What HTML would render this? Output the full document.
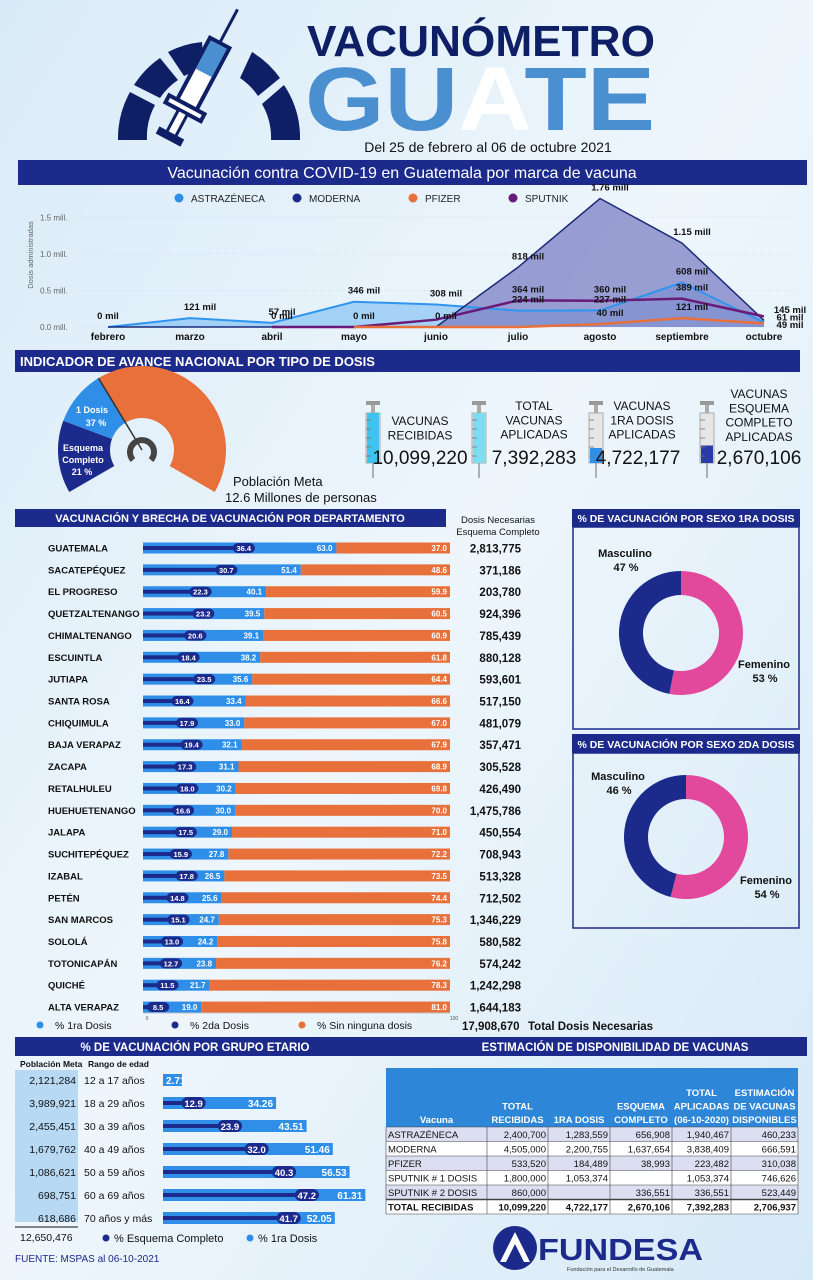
<!DOCTYPE html>
<html><head><meta charset="utf-8">
<style>
html,body{margin:0;padding:0;width:813px;height:1280px;overflow:hidden;background:#e6f1fa;}
svg{display:block;font-family:"Liberation Sans",sans-serif;}
</style></head>
<body>
<svg id="root" width="813" height="1280" viewBox="0 0 813 1280" xmlns="http://www.w3.org/2000/svg">
<defs>
<linearGradient id="bg" x1="0" y1="0" x2="1" y2="1">
<stop offset="0" stop-color="#d9ebf8"/><stop offset="0.5" stop-color="#eef6fc"/><stop offset="1" stop-color="#d6e9f7"/>
</linearGradient>
</defs>
<rect x="0" y="0" width="813" height="1280" fill="url(#bg)"/>

<g>
<path d="M118,140 A95,95 0 0,1 130,92 L155,105 A66,66 0 0,0 147,140 Z" fill="#0f1f66"/>
<path d="M134,85 A95,95 0 0,1 160,58 L178,80 A66,66 0 0,0 160,98 Z" fill="#0f1f66"/>
<path d="M168,52 A95,95 0 0,1 202,42 L204,70 A66,66 0 0,0 184,76 Z" fill="#0f1f66"/>
<path d="M252,52 A95,95 0 0,1 280,78 L258,96 A66,66 0 0,0 240,78 Z" fill="#0f1f66"/>
<path d="M284,85 A95,95 0 0,1 300,140 L271,140 A66,66 0 0,0 262,104 Z" fill="#0f1f66"/>
<g transform="translate(200,80) rotate(28)">
<line x1="0" y1="-80" x2="0" y2="-40" stroke="#0f1f66" stroke-width="3"/>
<rect x="-11" y="-42" width="22" height="70" fill="#fff" stroke="#0f1f66" stroke-width="4"/>
<rect x="-9" y="-40" width="18" height="32" fill="#4a90d0"/>
<rect x="-20" y="28" width="40" height="8" fill="#fff" stroke="#0f1f66" stroke-width="4"/>
<rect x="-5" y="36" width="10" height="26" fill="#fff" stroke="#0f1f66" stroke-width="3"/>
<rect x="-14" y="60" width="28" height="8" fill="#0f1f66"/>
</g>
</g>
<text x="307" y="56" font-size="44" font-weight="bold" fill="#0f1f66" textLength="348" lengthAdjust="spacingAndGlyphs">VACUNÓMETRO</text>
<text x="305" y="130" font-size="90" font-weight="bold" textLength="350" lengthAdjust="spacingAndGlyphs"><tspan fill="#4a8fd0">GU</tspan><tspan fill="#ffffff">A</tspan><tspan fill="#4a8fd0">TE</tspan></text>
<text x="488" y="152" font-size="14" fill="#111" text-anchor="middle">Del 25 de febrero al 06 de octubre 2021</text>

<rect x="18" y="160" width="789" height="25" fill="#1c2a8c"/>
<text x="402" y="178" font-size="16" fill="#fff" text-anchor="middle">Vacunación contra COVID-19 en Guatemala por marca de vacuna</text>
<g id="brandChart"></g>

<rect x="15" y="350" width="785" height="22" fill="#1c2a8c"/>
<text x="20" y="366" font-size="13" font-weight="bold" fill="#fff">INDICADOR DE AVANCE NACIONAL POR TIPO DE DOSIS</text>
<g id="gauge"></g>
<text x="233" y="486" font-size="13" fill="#111">Población Meta</text>
<text x="225" y="502" font-size="13" fill="#111">12.6 Millones de personas</text>
<g id="kpis"></g>

<rect x="15" y="509" width="431" height="18" fill="#1c2a8c"/>
<text x="230" y="522" font-size="11" font-weight="bold" fill="#fff" text-anchor="middle">VACUNACIÓN Y BRECHA DE VACUNACIÓN POR DEPARTAMENTO</text>
<text x="498" y="523" font-size="9.5" fill="#111" text-anchor="middle">Dosis Necesarias</text>
<text x="498" y="535" font-size="9.5" fill="#111" text-anchor="middle">Esquema Completo</text>
<g id="deptChart"></g>

<rect x="572" y="509" width="228" height="18" fill="#1c2a8c"/>
<text x="686" y="522" font-size="10.5" font-weight="bold" fill="#fff" text-anchor="middle">% DE VACUNACIÓN POR SEXO 1RA DOSIS</text>
<rect x="573" y="527" width="226" height="202" fill="none" stroke="#1c2a8c" stroke-width="1.5"/>
<rect x="572" y="734" width="228" height="19" fill="#1c2a8c"/>
<text x="686" y="748" font-size="10.5" font-weight="bold" fill="#fff" text-anchor="middle">% DE VACUNACIÓN POR SEXO 2DA DOSIS</text>
<rect x="573" y="753" width="226" height="175" fill="none" stroke="#1c2a8c" stroke-width="1.5"/>
<g id="donuts"></g>

<rect x="15" y="1037" width="792" height="19" fill="#1c2a8c"/>
<text x="195" y="1051" font-size="11.5" font-weight="bold" fill="#fff" text-anchor="middle">% DE VACUNACIÓN POR GRUPO ETARIO</text>
<text x="615" y="1051" font-size="11.5" font-weight="bold" fill="#fff" text-anchor="middle">ESTIMACIÓN DE DISPONIBILIDAD DE VACUNAS</text>
<rect x="15" y="1070" width="63" height="152" fill="#b7d9f4"/>
<text x="20" y="1067" font-size="8.5" font-weight="bold" fill="#111">Población Meta</text>
<text x="88" y="1067" font-size="8.5" font-weight="bold" fill="#111">Rango de edad</text>
<g id="ageChart"></g>
<line x1="15" y1="1227" x2="78" y2="1227" stroke="#111" stroke-width="1"/>
<text x="20" y="1241" font-size="10.5" fill="#111">12,650,476</text>
<circle cx="106" cy="1238" r="3.5" fill="#1c2a8c"/>
<text x="114" y="1242" font-size="11" fill="#111">% Esquema Completo</text>
<circle cx="250" cy="1238" r="3.5" fill="#2f8fe8"/>
<text x="258" y="1242" font-size="11" fill="#111">% 1ra Dosis</text>
<text x="15" y="1262" font-size="10" fill="#1c2a8c">FUENTE: MSPAS al 06-10-2021</text>
<g id="table"></g>

<g>
<circle cx="515" cy="1248" r="22" fill="#1c2a8c"/>
<path d="M500,1262 L515,1232 L530,1262 Z" fill="#fff"/>
<path d="M506,1262 L515,1244 L524,1262 Z" fill="#1c2a8c"/>
<text x="538" y="1260" font-size="31" font-weight="bold" fill="#1c2a8c" textLength="165" lengthAdjust="spacingAndGlyphs">FUNDESA</text>
<text x="567" y="1271" font-size="5.5" fill="#333">Fundación para el Desarrollo de Guatemala</text>
</g>
</svg>

<script>
const NS='http://www.w3.org/2000/svg';
function mk(tag,attrs,parent,txt){const e=document.createElementNS(NS,tag);for(const k in attrs)e.setAttribute(k,attrs[k]);if(txt!==undefined)e.textContent=txt;parent.appendChild(e);return e;}

const months=['febrero','marzo','abril','mayo','junio','julio','agosto','septiembre','octubre'];
const astra=[0,0.121,0.057,0.346,0.308,0.224,0.227,0.608,0.061];
const moderna=[0,0,0,0,0,0.818,1.76,1.15,0.09];
const pfizer=[null,null,null,0,0,0,0.04,0.121,0.049];
const sputnik=[null,null,0,0,0.10,0.364,0.36,0.389,0.145];
const yTicks=[0,0.5,1.0,1.5];
const yTickLabels=['0.0 mill.','0.5 mill.','1.0 mill.','1.5 mill.'];
const brandNames=['ASTRAZÉNECA','MODERNA','PFIZER','SPUTNIK'];

const gaugeEsquema=21;
const gaugeUnaDosis=37;
const kpiLabels=[['VACUNAS','RECIBIDAS'],['TOTAL','VACUNAS','APLICADAS'],['VACUNAS','1RA DOSIS','APLICADAS'],['VACUNAS','ESQUEMA','COMPLETO','APLICADAS']];
const kpiValues=['10,099,220','7,392,283','4,722,177','2,670,106'];
const kpiFill=[1,1,0.3,0.35];

const depts=['GUATEMALA','SACATEPÉQUEZ','EL PROGRESO','QUETZALTENANGO','CHIMALTENANGO','ESCUINTLA','JUTIAPA','SANTA ROSA','CHIQUIMULA','BAJA VERAPAZ','ZACAPA','RETALHULEU','HUEHUETENANGO','JALAPA','SUCHITEPÉQUEZ','IZABAL','PETÉN','SAN MARCOS','SOLOLÁ','TOTONICAPÁN','QUICHÉ','ALTA VERAPAZ'];
const deptDosis2=[36.4,30.7,22.3,23.2,20.6,18.4,23.5,16.4,17.9,19.4,17.3,18.0,16.6,17.5,15.9,17.8,14.8,15.1,13.0,12.7,11.5,8.5];
const deptDosis1=[63.0,51.4,40.1,39.5,39.1,38.2,35.6,33.4,33.0,32.1,31.1,30.2,30.0,29.0,27.8,26.5,25.6,24.7,24.2,23.8,21.7,19.0];
const deptSin=[37.0,48.6,59.9,60.5,60.9,61.8,64.4,66.6,67.0,67.9,68.9,69.8,70.0,71.0,72.2,73.5,74.4,75.3,75.8,76.2,78.3,81.0];
const deptNecesarias=['2,813,775','371,186','203,780','924,396','785,439','880,128','593,601','517,150','481,079','357,471','305,528','426,490','1,475,786','450,554','708,943','513,328','712,502','1,346,229','580,582','574,242','1,242,298','1,644,183'];

const sexFem=[53,54];
const sexMasc=[47,46];

const ageRanges=['12 a 17 años','18 a 29 años','30 a 39 años','40 a 49 años','50 a 59 años','60 a 69 años','70 años y más'];
const agePob=['2,121,284','3,989,921','2,455,451','1,679,762','1,086,621','698,751','618,686'];
const ageEsquema=[null,12.9,23.9,32.0,40.3,47.2,41.7];
const age1ra=[2.71,34.26,43.51,51.46,56.53,61.31,52.05];

const tblHeaders=[['Vacuna'],['TOTAL','RECIBIDAS'],['1RA DOSIS'],['ESQUEMA','COMPLETO'],['TOTAL','APLICADAS','(06-10-2020)'],['ESTIMACIÓN','DE VACUNAS','DISPONIBLES']];
const tblRows=[
['ASTRAZÉNECA','2,400,700','1,283,559','656,908','1,940,467','460,233'],
['MODERNA','4,505,000','2,200,755','1,637,654','3,838,409','666,591'],
['PFIZER','533,520','184,489','38,993','223,482','310,038'],
['SPUTNIK # 1 DOSIS','1,800,000','1,053,374','','1,053,374','746,626'],
['SPUTNIK # 2 DOSIS','860,000','','336,551','336,551','523,449'],
['TOTAL RECIBIDAS','10,099,220','4,722,177','2,670,106','7,392,283','2,706,937']];

const NAVY='#1c2a8c',LB='#2f8fe8',OR='#e8703a',PINK='#e2489c';

(function(){
const g=document.getElementById('brandChart');
const xM=i=>108+82*i, yV=v=>327-v*73;
yTicks.forEach((t,i)=>{
 const tl=mk('text',{x:40,y:yV(t)+3,'font-size':8,fill:'#666'},g,yTickLabels[i]);
 
 
 const gl=mk('line',{x1:80,x2:795,y1:yV(t),y2:yV(t),stroke:'#c9d6e6','stroke-width':0.6,'stroke-dasharray':'2,2'},g);
 
 
});
const yt=mk('text',{x:0,y:0,'font-size':7.5,fill:'#666','text-anchor':'middle',transform:'translate(33,255) rotate(-90)'},g,'Dosis administradas');


months.forEach((m,i)=>{
 const t=mk('text',{x:xM(i),y:340,'font-size':10,'font-weight':'bold',fill:'#111','text-anchor':'middle'},g,m);
 
 
});
const colors=[LB,NAVY,OR,'#6a1b7a'];
const lx=[179,297,413,513];
brandNames.forEach((n,i)=>{
 const c=mk('circle',{cx:lx[i],cy:198,r:4.5,fill:colors[i]},g);
 
 
 const t=mk('text',{x:lx[i]+12,y:202,'font-size':10,fill:'#222'},g,n);
 
 
});
function pts(arr){return arr.map((v,i)=>v===null?null:[xM(i),yV(v)]).filter(p=>p);}
function area(arr,fill,op,name){
 const p=pts(arr);const d='M'+p[0][0]+','+yV(0)+' '+p.map(q=>'L'+q[0]+','+q[1]).join(' ')+' L'+p[p.length-1][0]+','+yV(0)+'Z';
 const a=mk('path',{d:d,fill:fill,'fill-opacity':op},g);
 
 
}
function line(arr,col,w,name){
 const p=pts(arr);
 const l=mk('polyline',{points:p.map(q=>q.join(',')).join(' '),fill:'none',stroke:col,'stroke-width':w},g);
 
 
}
area(astra,'#6db6f2',0.55,'astrazeneca-area');
area(moderna,'#7b7fc4',0.75,'moderna-area');
line(astra,'#2f95ee',2,'astrazeneca-line');
line(moderna,'#1b2a7a',1.5,'moderna-line');
line(sputnik,'#6a1b7a',2.5,'sputnik-line');
line(pfizer,OR,2.5,'pfizer-line');
const fmt=v=>v>=1?v.toFixed(2)+' mill':Math.round(v*1000)+' mil';
let octIdx=0;
[[sputnik,'sputnik'],[astra,'astrazeneca'],[pfizer,'pfizer'],[moderna,'moderna']].forEach(([arr,n])=>{
 arr.forEach((v,i)=>{
  if(v===null)return;
  if(n==='moderna'&&(v===0&&i!==2&&i!==4))return;
  if(n==='moderna'&&i===8)return;
  if(n==='pfizer'&&v===0&&i!==3)return;
  if(n==='sputnik'&&i<5)return;
  let x=xM(i)+(i===0?0:10), y=Math.min(yV(v)-8,324);
  if(i===8){x=790;y=313+octIdx*7.5;octIdx++;}
  const t=mk('text',{x:x,y:y,'font-size':9.5,'font-weight':'bold',fill:'#111','text-anchor':'middle'},g,fmt(v));
  
  
 });
});
})();

(function(){
const g=document.getElementById('gauge');
const cx=142,cy=450,R=84,r=32;
function seg(a0,a1,col,name){
 const p=(a,rr)=>[cx+rr*Math.sin(a*Math.PI/180),cy-rr*Math.cos(a*Math.PI/180)];
 const [x0,y0]=p(a0,R),[x1,y1]=p(a1,R),[x2,y2]=p(a1,r),[x3,y3]=p(a0,r);
 const lg=(a1-a0)>180?1:0;
 const s=mk('path',{d:`M${x0},${y0} A${R},${R} 0 ${lg},1 ${x1},${y1} L${x2},${y2} A${r},${r} 0 ${lg},0 ${x3},${y3}Z`,fill:col},g);
 
 
}
const A=p=>-120+240*p/100;
seg(A(0),A(gaugeEsquema),NAVY,'gauge-esquema-segment');
seg(A(gaugeEsquema),A(gaugeUnaDosis),LB,'gauge-1dosis-segment');
seg(A(gaugeUnaDosis),A(100),OR,'gauge-remaining-segment');
const an=A(gaugeUnaDosis)*Math.PI/180;
const nd=mk('line',{x1:cx,y1:cy,x2:cx+R*Math.sin(an),y2:cy-R*Math.cos(an),stroke:'#333','stroke-width':1.5},g);


const kb=mk('path',{d:`M${cx-9},${cy+10} A12,12 0 1,1 ${cx+9},${cy+10}`,fill:'none',stroke:'#444','stroke-width':6},g);


[['1 Dosis',92,413],[gaugeUnaDosis+' %',96,426],['Esquema',83,451],['Completo',83,463],[gaugeEsquema+' %',82,475]].forEach(([t,x,y])=>{
 const e=mk('text',{x:x,y:y,'font-size':9,'font-weight':'bold',fill:'#fff','text-anchor':'middle'},g,t);
 
 
});
})();

(function(){
const g=document.getElementById('kpis');
const sx=[373,479,596,707], tx=[420,534,642,759];
kpiLabels.forEach((lines,i)=>{
 const x=sx[i];
 const sy=mk('g',{},g);
 
 
 mk('rect',{x:x-7,y:401,width:14,height:4,fill:'#999'},sy);
 mk('rect',{x:x-2,y:405,width:4,height:8,fill:'#aaa'},sy);
 mk('rect',{x:x-7,y:413,width:14,height:50,fill:'#e6e6e6',stroke:'#aaa','stroke-width':1},sy);
 const fh=50*kpiFill[i];
 mk('rect',{x:x-6,y:463-fh,width:12,height:fh,fill:i<2?(i==0?'#40c4ef':'#7fdcef'):(i==2?'#2f8fe8':'#2a3aa8')},sy);
 for(let k=0;k<5;k++)mk('line',{x1:x-7,x2:x-2,y1:420+k*9,y2:420+k*9,stroke:'#777','stroke-width':0.8},sy);
 mk('line',{x1:x,x2:x,y1:463,y2:478,stroke:'#999','stroke-width':1.5},sy);
 const n=lines.length, y0=(n===2?425:(n===3?410:398));
 lines.forEach((l,k)=>{
  const t=mk('text',{x:tx[i],y:y0+k*14.3,'font-size':12,fill:'#111','text-anchor':'middle'},g,l);
  
  
 });
 const v=mk('text',{x:tx[i]+(i===2?-4:0),y:464,'font-size':19,fill:'#111','text-anchor':'middle'},g,kpiValues[i]);
 
 
});
})();

(function(){
const g=document.getElementById('deptChart');
const x0=143,W=307,xs=v=>x0+W*v/100;
depts.forEach((d,i)=>{
 const cy=548+i*21.86;
 const nm=mk('text',{x:48,y:cy+3.5,'font-size':9.5,'font-weight':'bold',fill:'#111'},g,d);
 
 
 const b1=mk('rect',{x:x0,y:cy-5.5,width:xs(deptDosis1[i])-x0,height:11,fill:LB},g);
 
 
 const b3=mk('rect',{x:xs(deptDosis1[i]),y:cy-5.5,width:W*deptSin[i]/100,height:11,fill:OR},g);
 
 
 const e2=xs(deptDosis2[i]);
 const b2=mk('rect',{x:x0,y:cy-2,width:e2-x0,height:4,fill:NAVY},g);
 
 
 const pl=mk('rect',{x:e2-22,y:cy-5,width:22,height:10,rx:5,fill:NAVY},g);
 
 
 const l2=mk('text',{x:e2-11,y:cy+3,'font-size':7.5,'font-weight':'bold',fill:'#fff','text-anchor':'middle'},g,deptDosis2[i].toFixed(1));
 
 
 const l1=mk('text',{x:xs(deptDosis1[i])-4,y:cy+3,'font-size':8,'font-weight':'bold',fill:'#fff','text-anchor':'end'},g,deptDosis1[i].toFixed(1));
 
 
 const l3=mk('text',{x:x0+W-3,y:cy+3,'font-size':8,'font-weight':'bold',fill:'#fff','text-anchor':'end'},g,deptSin[i].toFixed(1));
 
 
 const nv=mk('text',{x:521,y:cy+4.5,'font-size':11.5,'font-weight':'bold',fill:'#111','text-anchor':'end'},g,deptNecesarias[i]);
 
 
});
const ax=mk('line',{x1:x0,x2:x0+W,y1:1013,y2:1013,stroke:'#999','stroke-width':0.6},g);


[[0,'0'],[100,'100']].forEach(([v,t])=>{
 const e=mk('text',{x:xs(v)+4,y:1020,'font-size':5,fill:'#555','text-anchor':'middle'},g,t);
 
 
});
[[40,LB,'% 1ra Dosis'],[175,NAVY,'% 2da Dosis'],[302,OR,'% Sin ninguna dosis']].forEach(([x,c,t])=>{
 const d=mk('circle',{cx:x,cy:1025,r:3.5,fill:c},g);
 
 
 const e=mk('text',{x:x+15,y:1029,'font-size':10.5,fill:'#111'},g,t);
 
 
});
const tv=mk('text',{x:462,y:1030,'font-size':11.5,'font-weight':'bold',fill:'#111'},g,'17,908,670');


const tl=mk('text',{x:528,y:1030,'font-size':11.5,'font-weight':'bold',fill:'#111'},g,'Total Dosis Necesarias');


})();

(function(){
const g=document.getElementById('donuts');
const centers=[[681,633],[686,837]];
const R=62,r=38;
function arc(cx,cy,a0,a1,col,name){
 const p=(a,rr)=>[cx+rr*Math.sin(a),cy-rr*Math.cos(a)];
 const [x0,y0]=p(a0,R),[x1,y1]=p(a1,R),[x2,y2]=p(a1,r),[x3,y3]=p(a0,r);
 const lg=(a1-a0)>Math.PI?1:0;
 const s=mk('path',{d:`M${x0},${y0} A${R},${R} 0 ${lg},1 ${x1},${y1} L${x2},${y2} A${r},${r} 0 ${lg},0 ${x3},${y3}Z`,fill:col},g);
 
 
}
const lab=[[[625,557],[764,668]],[[618,780],[766,884]]];
centers.forEach(([cx,cy],i)=>{
 const fa=2*Math.PI*sexFem[i]/100;
 arc(cx,cy,0,fa,PINK,'donut-femenino');
 arc(cx,cy,fa,2*Math.PI,NAVY,'donut-masculino');
 [['Masculino',sexMasc[i]+' %',lab[i][0]],['Femenino',sexFem[i]+' %',lab[i][1]]].forEach(([a,b,[x,y]])=>{
  const t1=mk('text',{x:x,y:y,'font-size':11,'font-weight':'bold',fill:'#111','text-anchor':'middle'},g,a);
  
  
  const t2=mk('text',{x:x+1,y:y+14,'font-size':11,'font-weight':'bold',fill:'#111','text-anchor':'middle'},g,b);
  
  
 });
});
})();

(function(){
const g=document.getElementById('ageChart');
const x0=163,xs=v=>x0+3.3*v;
ageRanges.forEach((rg,i)=>{
 const cy=1080+i*23;
 const p=mk('text',{x:76,y:cy+4,'font-size':10.5,fill:'#111','text-anchor':'end'},g,agePob[i]);
 
 
 const r=mk('text',{x:84,y:cy+4,'font-size':10.5,fill:'#111'},g,rg);
 
 
 const b=mk('rect',{x:x0,y:cy-6,width:xs(age1ra[i])-x0+(i===0?10:0),height:12,fill:LB},g);
 
 
 const t=mk('text',{x:i===0?x0+3:xs(age1ra[i])-3,y:cy+4,'font-size':10,'font-weight':'bold',fill:'#fff','text-anchor':i===0?'start':'end'},g,age1ra[i].toFixed(2));
 
 
 if(ageEsquema[i]!==null){
  const e=xs(ageEsquema[i]);
  const n=mk('rect',{x:x0,y:cy-2,width:e-x0,height:4,fill:NAVY},g);
  
  
  const pl=mk('rect',{x:e-24,y:cy-6,width:24,height:12,rx:6,fill:NAVY},g);
  
  
  const lt=mk('text',{x:e-12,y:cy+4,'font-size':9.5,'font-weight':'bold',fill:'#fff','text-anchor':'middle'},g,ageEsquema[i].toFixed(1));
  
  
 }
});
})();

(function(){
const g=document.getElementById('table');
const cols=[386,487,548,610,672,731,798];
const hy0=1068,hy1=1127,rh=14.5;
const hb=mk('rect',{x:cols[0],y:hy0,width:cols[6]-cols[0],height:hy1-hy0,fill:'#2d86d8'},g);


tblHeaders.forEach((h,j)=>{
 const cx=(cols[j]+cols[j+1])/2;
 h.forEach((l,k)=>{
  const t=mk('text',{x:cx,y:hy1-4-(h.length-1-k)*13.5,'font-size':9.5,'font-weight':'bold',fill:'#fff','text-anchor':'middle'},g,l);
  
  
 });
});
tblRows.forEach((row,i)=>{
 const y=hy1+i*rh;
 const bg=mk('rect',{x:cols[0],y:y,width:cols[6]-cols[0],height:rh,fill:i%2===0&&i<5?'#dcdff2':'#ffffff'},g);
 
 
 row.forEach((c,j)=>{
  const t=mk('text',{x:j===0?cols[0]+2:cols[j+1]-2,y:y+11,'font-size':9.5,'font-weight':i===5?'bold':'normal',fill:'#111','text-anchor':j===0?'start':'end'},g,c);
  
  
 });
});
cols.forEach(x=>{const l=mk('line',{x1:x,x2:x,y1:hy1,y2:hy1+6*rh,stroke:'#444','stroke-width':0.6},g);
 
 });
for(let i=0;i<=6;i++){const l=mk('line',{x1:cols[0],x2:cols[6],y1:hy1+i*rh,y2:hy1+i*rh,stroke:'#444','stroke-width':i===5?1.5:0.6},g);
 
 }
})();
</script>
</body></html>
